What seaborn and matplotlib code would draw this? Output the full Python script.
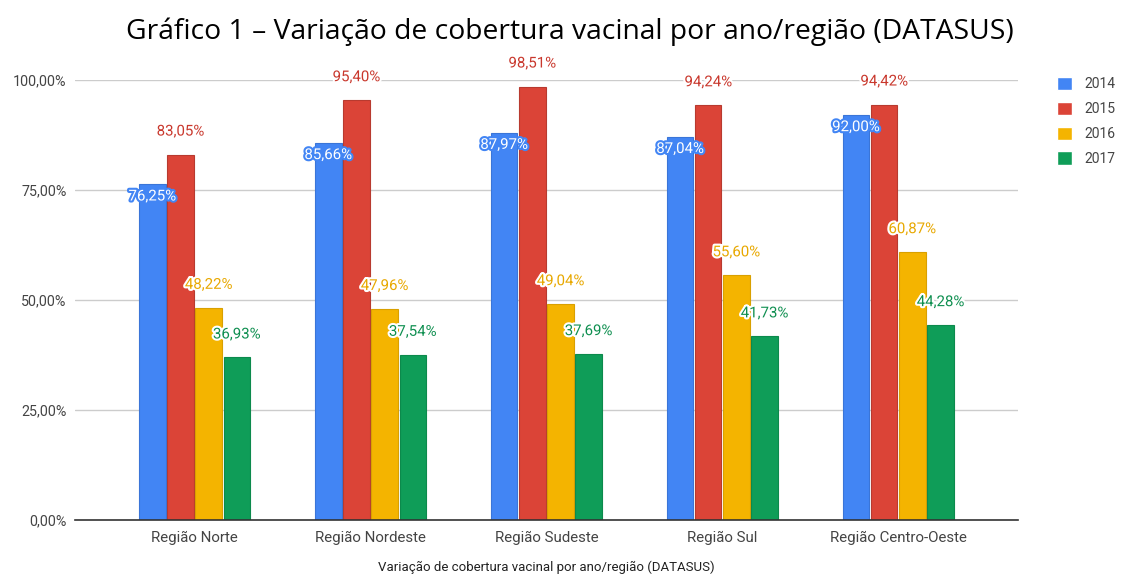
import seaborn as sns
import matplotlib.pyplot as plt
import matplotlib.patheffects as pe
import pandas as pd

# Data
regioes = ['Região Norte', 'Região Nordeste', 'Região Sudeste', 'Região Sul', 'Região Centro-Oeste']
anos = ['2014', '2015', '2016', '2017']
cob_2014 = [76.25, 85.66, 87.97, 87.04, 92.00]
cob_2015 = [83.05, 95.40, 98.51, 94.24, 94.42]
cob_2016 = [48.22, 47.96, 49.04, 55.60, 60.87]
cob_2017 = [36.93, 37.54, 37.69, 41.73, 44.28]
yticks = [0, 25, 50, 75, 100]

cores = ['#4285F4', '#DB4437', '#F4B400', '#0F9D58']
bordas = ['#3a75d8', '#b83a2f', '#d9a000', '#0c8a4c']
cores_txt = ['#ffffff', '#c9382d', '#e8a800', '#0f8f50']

# Long form table
rows = []
for ano, vals in zip(anos, [cob_2014, cob_2015, cob_2016, cob_2017]):
    for reg, v in zip(regioes, vals):
        rows.append({'regiao': reg, 'ano': ano, 'cobertura': v})
df = pd.DataFrame(rows)

sns.set_style('white')
plt.rcParams['font.family'] = ['Roboto', 'DejaVu Sans']

fig = plt.figure(figsize=(11.21, 5.77), dpi=100)
ax = fig.add_axes([0.0669, 0.0988, 0.8411, 0.7626])

sns.barplot(data=df, x='regiao', y='cobertura', hue='ano', palette=cores,
            width=0.64, gap=0.06, ax=ax, legend=True, saturation=1)

for i, cont in enumerate(ax.containers):
    for bar in cont:
        bar.set_edgecolor(bordas[i])
        bar.set_linewidth(0.8)
        x = bar.get_x() + bar.get_width() / 2
        h = bar.get_height()
        dy = -12 if i == 0 else 23
        ax.annotate(f'{h:.2f}%'.replace('.', ','), (x, h), xytext=(0, dy),
                    textcoords='offset pixels', ha='center', va='center',
                    fontsize=10.8, color=cores_txt[i],
                    annotation_clip=False,
                    path_effects=[pe.withStroke(linewidth=3,
                                                foreground='white' if i != 0 else cores[0])])

ax.set_ylim(0, 100)
ax.set_xlim(-0.68, 4.68)
ax.set_yticks(yticks)
ax.set_yticklabels([f'{t:.2f}%'.replace('.', ',') for t in yticks], color='#444444', fontsize=10.3)
ax.tick_params(axis='x', colors='#444444', labelsize=10.8, length=0, pad=8)
ax.tick_params(axis='y', length=0, pad=6)
ax.yaxis.grid(True, color='#cccccc', linewidth=1)
ax.set_axisbelow(True)
for s in ['top', 'right', 'left']:
    ax.spines[s].set_visible(False)
ax.spines['bottom'].set_color('#333333')
ax.spines['bottom'].set_linewidth(1.2)
ax.set_ylabel('')
ax.set_xlabel('Variação de cobertura vacinal por ano/região (DATASUS)',
              fontsize=9.5, color='#222222', labelpad=11)

leg = ax.legend(loc='upper left', bbox_to_anchor=(1.028, 1.035), frameon=False,
                fontsize=10, handlelength=1.1, handleheight=1.1, labelspacing=0.75,
                handletextpad=0.9)
for t in leg.get_texts():
    t.set_color('#444444')

fig.text(0.508, 0.945, 'Gráfico 1 – Variação de cobertura vacinal por ano/região (DATASUS)',
         ha='center', va='center', fontsize=20.3, family=['Open Sans', 'DejaVu Sans'],
         color='#000000')

fig.savefig('out.png', dpi=100)
